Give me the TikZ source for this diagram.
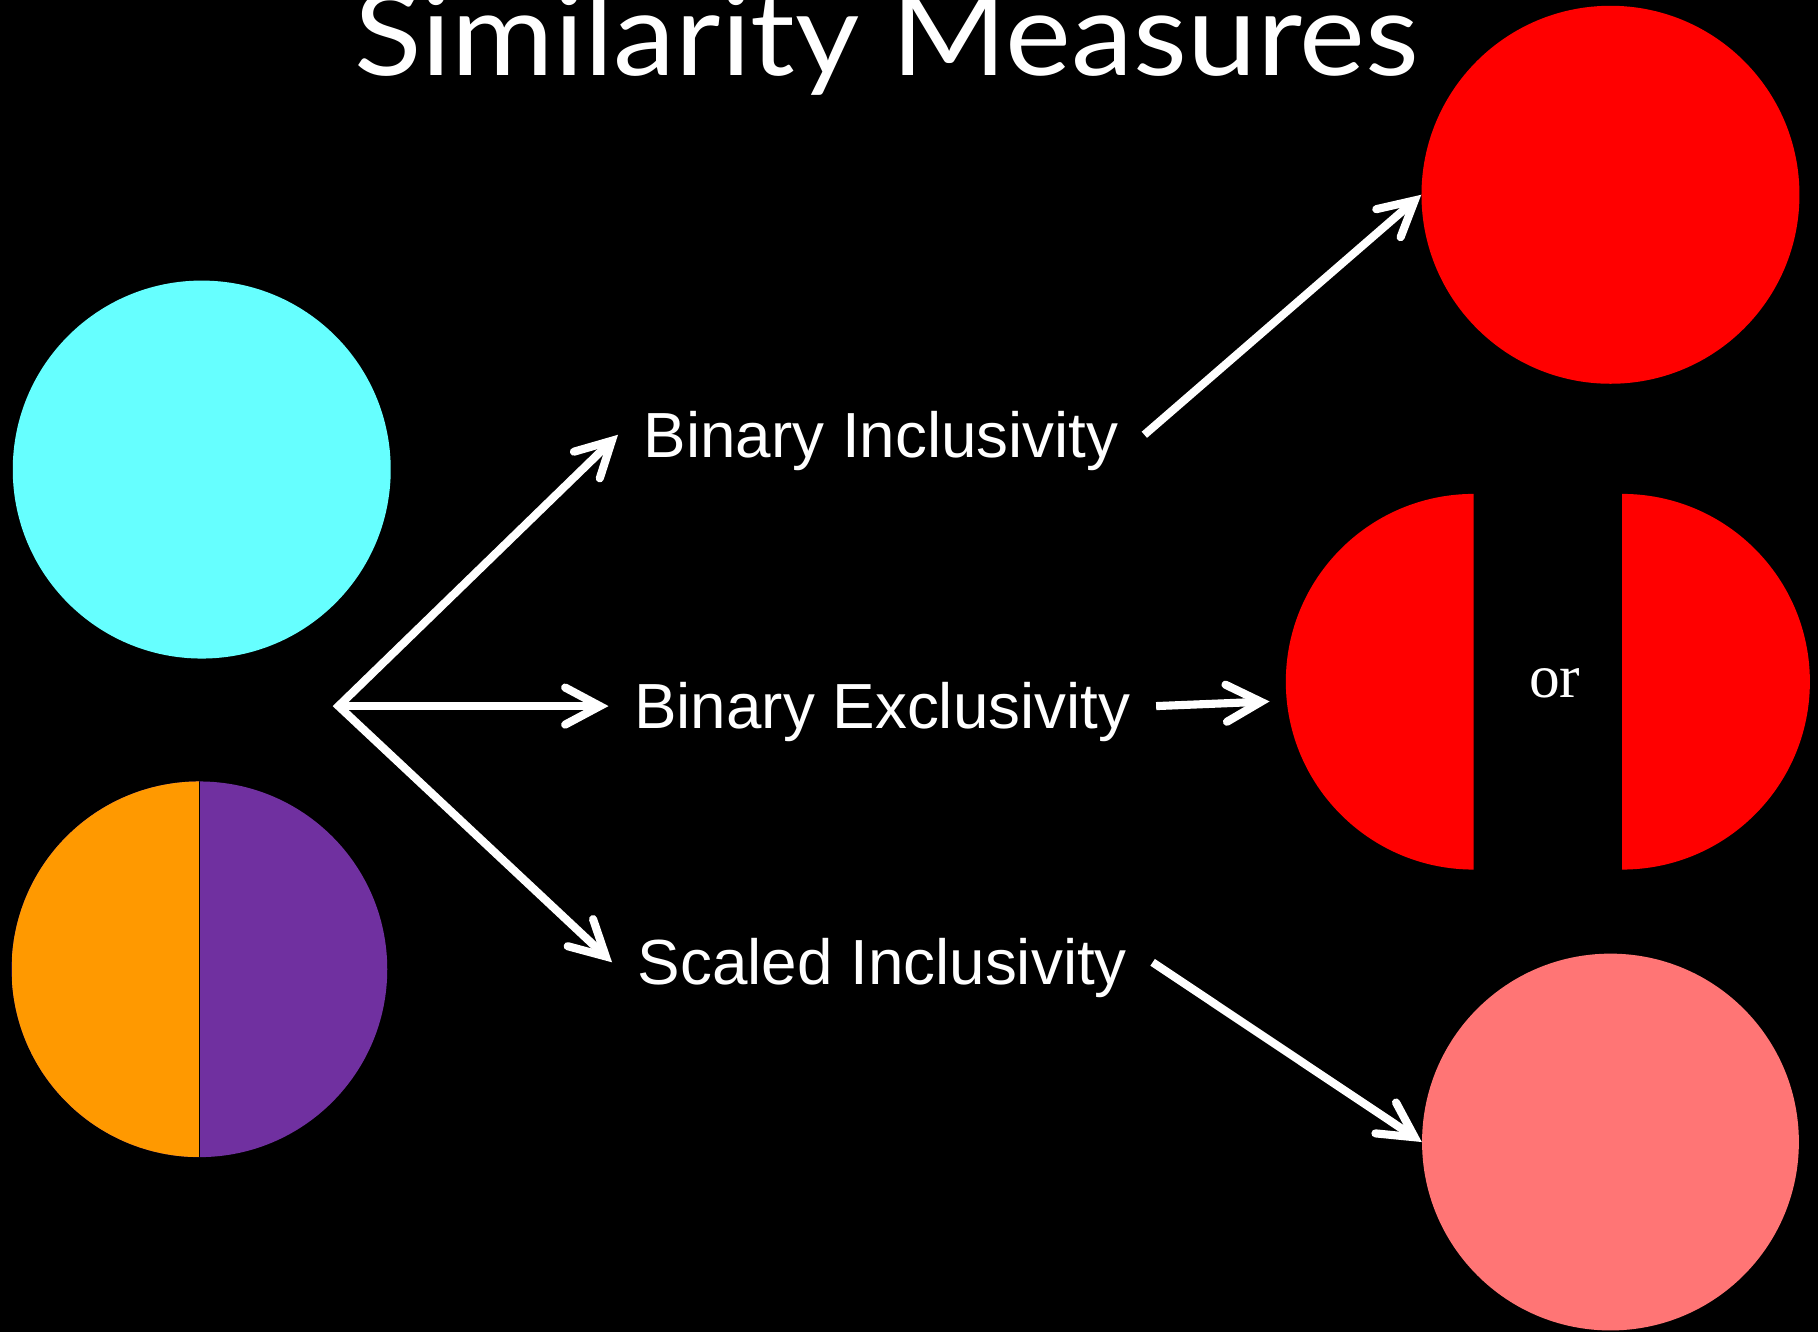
\documentclass[tikz,border=0pt]{standalone}
\usepackage{fontspec}
\setmainfont{Liberation Sans}
\newfontfamily\titlefont{Lato}
\newfontfamily\orfont{Liberation Serif}
\usetikzlibrary{arrows.meta}
\definecolor{querycyan}{HTML}{66FFFF}
\definecolor{halforange}{HTML}{FF9900}
\definecolor{halfpurple}{HTML}{7030A0}
\definecolor{hitred}{HTML}{FF0000}
\definecolor{scaledpink}{HTML}{FF7575}

\begin{document}
\begin{tikzpicture}[x=1pt, y=1pt,
    disc/.style={circle, minimum size=326pt, inner sep=0pt},
    measure/.style={text=white, font=\fontsize{55}{60}\selectfont, inner xsep=22pt, inner ysep=0pt, text height=39pt, text depth=0pt},
    pointer/.style={draw=white, line width=7pt, line join=miter},
    >={Straight Barb[length=30pt, width=32pt, line cap=round, line join=miter]}]
        \useasboundingbox (0,0) rectangle (1568,1148);
        \fill[black] (-10,-10) rectangle (1578,1158);

        \node (title) at (765, 1083) [anchor=base, text=white, font=\titlefont\fontsize{100}{104}\selectfont] {\scalebox{1.075}[1]{Similarity Measures}};

        \node (query) at (174, 743) [disc, fill=querycyan] {};
        \node (target) at (172, 312) [disc, minimum size=324pt, fill=halfpurple,
            path picture={
                \fill[halforange] (path picture bounding box.south west) rectangle (path picture bounding box.north);
                \draw[black, line width=1.5pt] (path picture bounding box.south) -- (path picture bounding box.north);
            }] {};
        \coordinate (fork) at (292, 539);

        \node (bi) at (760, 773) [measure] {Binary Inclusivity};
        \node (be) at (761, 539) [measure] {Binary Exclusivity};
        \node (si) at (761, 318) [measure] {Scaled Inclusivity};

        \node (topred) at (1389, 980) [disc, fill=hitred] {};
        \node (pink) at (1389, 163) [disc, minimum size=325pt, fill=scaledpink] {};
        \fill[hitred] (1271, 398) arc[start angle=270, end angle=90, radius=162] -- cycle;
        \fill[hitred] (1399, 398) arc[start angle=-90, end angle=90, radius=162] -- cycle;
        \node (or) at (1341, 559) [text=white, font=\orfont\fontsize{53}{56}\selectfont] {or};
        \coordinate (orin) at (1095, 543);

        \draw [pointer, <->] (bi.west) -- (fork) -- (si.west);
        \draw [pointer, ->] (fork) -- (be.west);
        \draw [pointer, ->] (bi.east) -- (topred.west);
        \draw [pointer, ->] (be.east) -- (orin);
        \draw [pointer, ->] (si.east) -- (pink.west);
    \end{tikzpicture}
\end{document}
